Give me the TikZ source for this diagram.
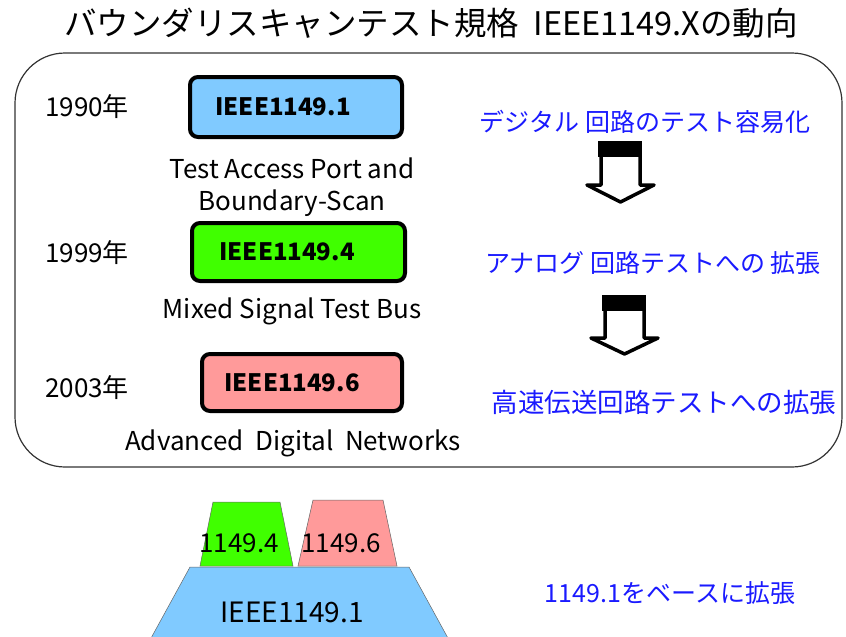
\documentclass[tikz,border=0pt]{standalone}
\usepackage{fontspec}
\setmainfont{Noto Sans CJK JP}
\definecolor{boxblue}{HTML}{80CAFF}
\definecolor{boxgreen}{HTML}{40FF00}
\definecolor{boxpink}{HTML}{FF9A9A}
\definecolor{txtblue}{HTML}{1A1AFF}
\begin{document}
\begin{tikzpicture}[x=1pt,y=-1pt,
  stdbox/.style={draw=black, line width=4pt, rounded corners=8pt, inner sep=0pt,
    font=\fontsize{24}{27}\selectfont\bfseries},
  yearlbl/.style={anchor=west, inner sep=0pt, font=\fontsize{26}{30}\selectfont},
  desc/.style={inner sep=0pt, font=\fontsize{26}{30}\selectfont},
  bluetxt/.style={inner sep=0pt, text=txtblue, font=\fontsize{25}{29}\selectfont},
  blockarrow/.style={fill=white, draw=black, line width=3.5pt, line join=round},
  trap/.style={draw=black!60, line width=0.5pt},
  traplbl/.style={inner sep=0pt, font=\fontsize{26}{30}\selectfont}
]
\useasboundingbox (0,0) rectangle (846,637);
% title
\node[inner sep=0pt, font=\fontsize{32.5}{37}\selectfont] (title) at (431,23) {バウンダリスキャンテスト規格\ \ IEEE1149.Xの動向};
% frame
\draw[draw=black!80, line width=1.2pt, rounded corners=50pt] (15,53) rectangle (842,467);
% standard boxes
\node[stdbox, fill=boxblue, minimum width=212pt, minimum height=60pt] (b1) at (296,107) {IEEE1149.1\rule{26pt}{0pt}};
\node[stdbox, fill=boxgreen, minimum width=213pt, minimum height=58pt] (b4) at (298.5,252) {IEEE1149.4\rule{23pt}{0pt}};
\node[stdbox, fill=boxpink, minimum width=200pt, minimum height=57pt] (b6) at (302,382.5) {IEEE1149.6\rule{20pt}{0pt}};
% years
\node[yearlbl] (y1) at (45,107) {1990年};
\node[yearlbl] (y4) at (45,253) {1999年};
\node[yearlbl] (y6) at (45,388) {2003年};
% descriptions
\node[desc] (d1a) at (292,168) {Test Access Port and};
\node[desc] (d1b) at (292,203) {Boundary-Scan};
\node[desc] (d4) at (292,311) {Mixed Signal Test Bus};
\node[desc] (d6) at (293,443) {Advanced\ \ Digital\ \ Networks};
% right-hand texts
\node[bluetxt] (r1) at (645,122) {デジタル 回路のテスト容易化};
\node[bluetxt] (r2) at (653,263) {アナログ 回路テストへの 拡張};
\node[bluetxt, font=\fontsize{26.5}{30}\selectfont] (r3) at (664,402) {高速伝送回路テストへの拡張};
% block arrows
\draw[blockarrow] (601,143) -- (640,143) -- (640,185) -- (654,185) -- (620.5,202) -- (587,185) -- (601,185) -- cycle;
\fill[black] (598,141) rectangle (642,157);
\draw[blockarrow] (605,297) -- (644,297) -- (644,338) -- (658,338) -- (624.5,354) -- (591,338) -- (605,338) -- cycle;
\fill[black] (602,295) rectangle (646,311);
% bottom stack
\draw[trap, fill=boxgreen] (213,502) -- (280,502) -- (293,566) -- (200,566) -- cycle;
\draw[trap, fill=boxpink] (313,500) -- (383,500) -- (397,566) -- (298,566) -- cycle;
\draw[trap, fill=boxblue] (190,567) -- (409,567) -- (449,640) -- (150,640) -- cycle;
\node[traplbl] (s4) at (239,543) {1149.4};
\node[traplbl] (s6) at (341,543) {1149.6};
\node[traplbl, font=\fontsize{28}{32}\selectfont] (s1) at (292,612) {IEEE1149.1};
\node[bluetxt] (base) at (670,593) {1149.1をベースに拡張};
\end{tikzpicture}
\end{document}
